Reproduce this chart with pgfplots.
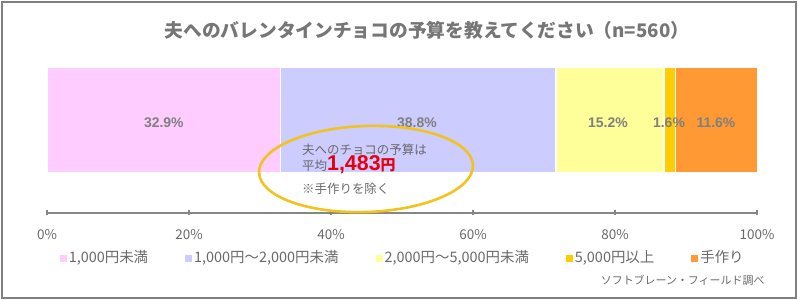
\documentclass[border=0pt]{standalone}
\usepackage{pgfplots}
\pgfplotsset{compat=1.18}
\usepackage{fontspec}
\setmainfont{Noto Sans CJK JP}
\newfontfamily\libfont{Liberation Sans}
\definecolor{cA}{RGB}{255,204,255}
\definecolor{cB}{RGB}{204,204,255}
\definecolor{cC}{RGB}{255,255,153}
\definecolor{cD}{RGB}{255,204,0}
\definecolor{cE}{RGB}{255,153,51}
\definecolor{framegray}{RGB}{128,128,128}
\definecolor{titlegray}{RGB}{118,118,118}
\definecolor{axisgray}{RGB}{134,134,134}
\definecolor{txtgray}{RGB}{105,105,105}
\definecolor{lblgray}{RGB}{127,127,127}
\definecolor{ellgold}{RGB}{240,195,30}
\definecolor{redtxt}{RGB}{230,0,18}
\begin{document}
\begin{tikzpicture}
\useasboundingbox (0,0) rectangle (798bp,300bp);
\draw[framegray, line width=2.2bp] (1.8bp,1.8bp) rectangle (796.2bp,298.2bp);
\node[font=\bfseries\fontsize{18.8}{21}\selectfont, text=titlegray] at (427bp,270bp) {夫へのバレンタインチョコの予算を教えてください（n=560）};
\node[font=\fontsize{11}{13}\selectfont, text=txtgray, anchor=east] at (768bp,20bp) {ソフトブレーン・フィールド調べ};
\begin{axis}[
  at={(47bp,87bp)}, anchor=south west, scale only axis,
  width=710bp, height=153bp,
  xmin=0, xmax=100, ymin=0, ymax=153,
  xbar stacked, bar width=106,
  clip=false,
  axis y line=none, axis x line*=bottom,
  x axis line style={axisgray, line width=1.6bp},
  xtick={0,20,...,100},
  major tick length=5bp, tick align=center,
  tick style={axisgray, line width=1.4bp},
  xticklabel={\pgfmathprintnumber[assume math mode=true]{\tick}\%},
  xticklabel style={font=\fontsize{13.5}{15}\selectfont, text=txtgray, anchor=center, yshift=-19bp},
  legend style={at={(0.501,-0.288)}, anchor=center, draw=none, fill=none,
    font=\fontsize{14.5}{16}\selectfont, text=txtgray,
    /tikz/every even column/.append style={column sep=35bp}},
  legend columns=-1,
  legend image code/.code={\fill[#1,draw=none] (0bp,-5bp) rectangle (7bp,2bp);},
]
\addplot[fill=cA, draw=white, line width=1.5bp] coordinates {(32.9,93)};
\addlegendentry{1,000円未満}
\addplot[fill=cB, draw=white, line width=1.5bp] coordinates {(38.8,93)};
\addlegendentry{1,000円～2,000円未満}
\addplot[fill=cC, draw=white, line width=1.5bp] coordinates {(15.2,93)};
\addlegendentry{2,000円～5,000円未満}
\addplot[fill=cD, draw=white, line width=1.5bp] coordinates {(1.6,93)};
\addlegendentry{5,000円以上}
\addplot[fill=cE, draw=white, line width=1.5bp] coordinates {(11.6,93)};
\addlegendentry{手作り}
\end{axis}
\begin{scope}[font=\libfont\bfseries\fontsize{14}{16}\selectfont, text=lblgray]
\node at (163.8bp,177bp) {32.9\%};
\node at (417bp,177bp) {38.8\%};
\node at (608bp,177bp) {15.2\%};
\node at (669bp,177bp) {1.6\%};
\node at (716bp,177bp) {11.6\%};
\end{scope}
\draw[ellgold, line width=2.6bp, rotate around={2:(366bp,131bp)}] (366bp,131bp) ellipse [x radius=107bp, y radius=43bp];
\node[anchor=west, inner sep=0pt, font=\fontsize{12.5}{14}\selectfont, text=txtgray] at (302bp,150bp) {夫へのチョコの予算は};
\node[anchor=base west, inner sep=0pt, font=\fontsize{12.5}{14}\selectfont, text=txtgray] at (302bp,129bp) {平均{\color{redtxt}\libfont\bfseries\fontsize{21.5}{23}\selectfont 1,483}{\color{redtxt}\bfseries\fontsize{15}{16}\selectfont 円}};
\node[anchor=west, inner sep=0pt, font=\fontsize{12.5}{14}\selectfont, text=txtgray] at (302bp,111bp) {※手作りを除く};
\end{tikzpicture}
\end{document}
